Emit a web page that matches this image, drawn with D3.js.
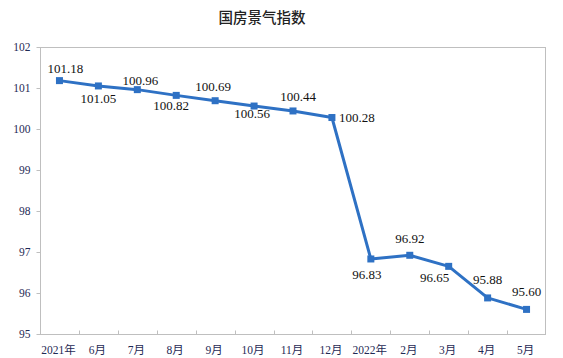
<!DOCTYPE html>
<html><head><meta charset="utf-8">
<script src="https://cdn.jsdelivr.net/npm/d3@7"></script>
<style>body{margin:0;background:#fff}svg{display:block}
.serif{font-family:"Liberation Serif","DejaVu Serif","Noto Sans CJK SC",serif}
</style>
</head><body>
<svg id="c" width="563" height="358"></svg>
<script>
const categories = ["2021年","6月","7月","8月","9月","10月","11月","12月","2022年","2月","3月","4月","5月"];
const values = [101.18,101.05,100.96,100.82,100.69,100.56,100.44,100.28,96.83,96.92,96.65,95.88,95.60];
const yTicks = [95,96,97,98,99,100,101,102];
const title = "国房景气指数";

const svg = d3.select("#c");
const m = {left:40, right:546, top:47, bottom:334};
const x = d3.scaleBand().domain(categories).range([m.left, m.right]);
const y = d3.scaleLinear().domain([95,102]).range([m.bottom, m.top]);
const blue = "#2E71C4";

svg.append("text").attr("x",262).attr("y",23).attr("text-anchor","middle")
  .style("font-family","'Noto Sans CJK SC',sans-serif").style("font-weight","500")
  .style("font-size","14.5px").attr("fill","#222").text(title);

// frame
svg.append("rect").attr("x",m.left+0.5).attr("y",m.top+0.5)
  .attr("width",m.right-m.left-1).attr("height",m.bottom-m.top)
  .attr("fill","none").attr("stroke","#BFBFBF").attr("stroke-width",1);

// y axis
const ya = svg.append("g").attr("transform",`translate(${m.left+0.5},0)`)
  .call(d3.axisLeft(y).tickValues(yTicks).tickSize(4).tickPadding(6).tickFormat(d3.format("d")));
ya.attr("font-family",null).attr("font-size",null);
ya.select(".domain").remove();
ya.selectAll("line").attr("stroke","#BFBFBF");
ya.selectAll("text").attr("class","serif").style("font-size","11.5px").attr("fill","#1F2A55");

// x axis: ticks at band boundaries inside
const xa = svg.append("g").attr("transform",`translate(0,${m.bottom+0.5})`);
categories.slice(1).forEach(c=>{
  const px = Math.round(x(c))+0.5;
  xa.append("line").attr("x1",px).attr("x2",px).attr("y1",0).attr("y2",-4).attr("stroke","#BFBFBF");
});
xa.selectAll("text.xl").data(categories).join("text").attr("class","xl serif")
  .attr("x",d=>x(d)+x.bandwidth()/2-1).attr("y",19.5).attr("text-anchor","middle")
  .style("font-size","11.5px").attr("fill","#1F2A55").text(d=>d);

const cx = i => x(categories[i]) + x.bandwidth()/2;
const line = d3.line().x((d,i)=>cx(i)).y(d=>y(d));
svg.append("path").datum(values).attr("d",line).attr("fill","none")
  .attr("stroke",blue).attr("stroke-width",3).attr("stroke-linejoin","round");
svg.selectAll("rect.mk").data(values).join("rect").attr("class","mk")
  .attr("x",(d,i)=>cx(i)-3.5).attr("y",d=>y(d)-3.5).attr("width",7).attr("height",7).attr("fill",blue);

// label placement
const place = {0:[6,-12],1:[0,13],2:[3,-9],3:[-5,10],4:[-2,-14],5:[-2,7],6:[5,-14],8:[-4,16],9:[0,-17],10:[-14,11],11:[0,-18],12:[0,-18]};
svg.selectAll("text.dl").data(values).join("text").attr("class","dl serif")
  .attr("x",(d,i)=> i===7 ? cx(i)+7 : cx(i)+place[i][0])
  .attr("y",(d,i)=> i===7 ? y(d)+4.5 : y(d)+place[i][1]+4.5)
  .attr("text-anchor",(d,i)=> i===7 ? "start":"middle")
  .style("font-size","13px").attr("fill","#111")
  .text(d=>d.toFixed(2));
</script>
</body></html>
